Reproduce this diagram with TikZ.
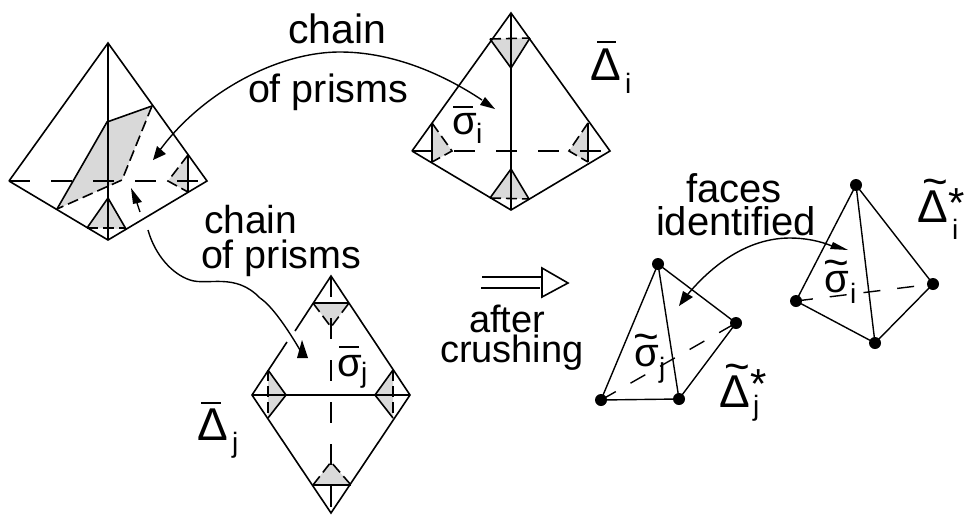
\documentclass[tikz,border=0pt]{standalone}
\usepackage{fontspec}
\setmainfont{Liberation Sans}
\definecolor{shade}{gray}{0.85}
\newcommand{\fs}[1]{\fontsize{#1}{#1}\selectfont}
\tikzset{
  edge/.style={line width=1.6pt,line join=miter},
  thin edge/.style={line width=1.4pt},
  longdash/.style={edge,dash pattern=on 21pt off 21pt},
  shortdash/.style={edge,dash pattern=on 11pt off 5pt},
  shadeface/.style={fill=shade,draw=none},
  txt/.style={anchor=base west,inner sep=0pt,outer sep=0pt,text=black},
  curve/.style={line width=1.4pt},
  tip/.style={fill=black,draw=none},
  barline/.style={line width=1.3pt},
  dot/.style={circle,fill=black,inner sep=0pt,minimum size=12pt},
}
\begin{document}
\begin{tikzpicture}[x=1pt,y=-1pt]
\useasboundingbox (0,0) rectangle (967,515);
% left tetrahedron
\coordinate (aT) at (108,43); \coordinate (aL) at (9,181); \coordinate (aR) at (207,181); \coordinate (aB) at (108,240);
\fill[shadeface] (107,122)--(152,106)--(122,180)--(57,209)--cycle;
\fill[shadeface] (108,198)--(87,228)--(126,229)--cycle;
\fill[shadeface] (188,155)--(168,181)--(188,192)--cycle;
\draw[edge] (aL)--(aT)--(aR)--(aB)--(aL);
\draw[edge] (aT)--(aB);
\draw[longdash] (aL)--(aR);
\draw[edge] (57,209)--(107,122)--(152,106);
\draw[shortdash] (152,106)--(122,180)--(57,209);
\draw[edge] (87,228)--(108,198)--(126,229);
\draw[shortdash] (87,228)--(126,228);
\draw[edge] (188,155)--(188,192);
\draw[shortdash] (188,155)--(168,181)--(188,192);
% top tetrahedron
\coordinate (bT) at (511,13); \coordinate (bL) at (412,151); \coordinate (bR) at (610,151); \coordinate (bB) at (511,210);
\fill[shadeface] (490,39)--(530,38)--(511,68)--cycle;
\fill[shadeface] (432,123)--(432,162)--(452,151)--cycle;
\fill[shadeface] (588,123)--(588,162)--(569,151)--cycle;
\fill[shadeface] (511,169)--(490,198)--(529,199)--cycle;
\draw[edge] (bL)--(bT)--(bR)--(bB)--(bL);
\draw[edge] (bT)--(bB);
\draw[longdash] (bL)--(bR);
\draw[edge] (490,39)--(511,68)--(530,38);
\draw[shortdash] (490,39)--(530,38);
\draw[edge] (432,123)--(432,162);
\draw[shortdash] (432,123)--(452,151)--(432,162);
\draw[edge] (588,123)--(588,162);
\draw[shortdash] (588,123)--(569,151)--(588,162);
\draw[edge] (490,198)--(511,169)--(529,199);
\draw[shortdash] (490,198)--(529,199);
% lower tetrahedron
\coordinate (cT) at (331,276); \coordinate (cL) at (252,395); \coordinate (cR) at (410,395); \coordinate (cB) at (331,513);
\fill[shadeface] (313,303)--(349,303)--(331,327)--cycle;
\fill[shadeface] (268,370)--(268,418)--(286,395)--cycle;
\fill[shadeface] (393,370)--(393,418)--(375,395)--cycle;
\fill[shadeface] (331,462)--(313,485)--(351,485)--cycle;
\draw[edge] (295,331)--(cT)--(cR)--(cB)--(cL)--(287,342);
\draw[edge] (cL)--(cR);
\draw[longdash] (cT)--(cB);
\draw[edge] (313,303)--(349,303);
\draw[shortdash] (313,303)--(331,327)--(349,303);
\draw[edge] (268,370)--(286,395)--(268,418);
\draw[shortdash] (268,370)--(268,418);
\draw[edge] (393,370)--(375,395)--(393,418);
\draw[shortdash] (393,370)--(393,418);
\draw[edge] (313,485)--(351,485);
\draw[shortdash] (313,485)--(331,462)--(351,485);
% right crushed tetrahedra
\node[dot] (dT) at (856,185) {};
\node[dot] (dL) at (796,301) {};
\node[dot] (dR) at (933,284) {};
\node[dot] (dB) at (875,343) {};
\draw[thin edge] (dL.center)--(dT.center)--(dR.center)--(dB.center)--(dL.center);
\draw[thin edge] (dT.center)--(dB.center);
\draw[thin edge,dash pattern=on 17pt off 17pt] (dL.center)--(dR.center);
\node[dot] (eT) at (658,264) {};
\node[dot] (eL) at (601,400) {};
\node[dot] (eR) at (736,323) {};
\node[dot] (eB) at (679,399) {};
\draw[thin edge] (eL.center)--(eT.center)--(eR.center)--(eB.center)--(eL.center);
\draw[thin edge] (eT.center)--(eB.center);
\draw[thin edge,dash pattern=on 17pt off 17pt] (eL.center)--(eR.center);
% curved arrows
\coordinate (p1) at (160,150); \coordinate (p2) at (340,52); \coordinate (p3) at (482,100);
\draw[curve] (p1) .. controls (200,95) and (275,52) .. (p2) .. controls (390,52) and (440,72) .. (p3);
\fill[tip] (153,160)--(157,146)--(166,154)--cycle;
\fill[tip] (495,109)--(485,97)--(480,105)--cycle;
\coordinate (q1) at (148,230); \coordinate (q2) at (190,280); \coordinate (q3) at (260,298); \coordinate (q4) at (300,350);
\draw[curve] (q1) .. controls (155,255) and (172,274) .. (q2) .. controls (208,286) and (235,272) .. (q3) .. controls (272,306) and (287,328) .. (q4);
\fill[tip] (302,340)--(297,358)--(308,358)--cycle;
\coordinate (s1) at (140,212); \coordinate (s2) at (136,200);
\draw[curve] (s1)--(s2);
\fill[tip] (131,188)--(133,204)--(142,202)--cycle;
\coordinate (r1) at (688,294); \coordinate (r2) at (790,238); \coordinate (r3) at (832,246);
\draw[curve] (r1) .. controls (715,262) and (750,238) .. (r2) .. controls (805,238) and (820,241) .. (r3);
\fill[tip] (679,306)--(683,291)--(693,297)--cycle;
\fill[tip] (848,250)--(833,242)--(830,249)--cycle;
% implication arrow
\coordinate (u1) at (482,277); \coordinate (u2) at (542,277); \coordinate (v1) at (481,288); \coordinate (v2) at (540,288);
\draw[edge] (u1)--(u2);
\draw[edge] (v1)--(v2);
\draw[edge] (542,268)--(568,283)--(542,297)--cycle;
% texts
\node[txt,font=\fs{41}] (t1) at (288,43) {chain};
\node[txt,font=\fs{39.5}] (t2) at (248,102) {of prisms};
\node[txt,font=\fs{39}] (t3) at (204,233) {chain};
\node[txt,font=\fs{39.5}] (t4) at (201,268) {of prisms};
\node[txt,font=\fs{38}] (t5) at (469,332) {after};
\node[txt,font=\fs{38}] (t6) at (440,362) {crushing};
\node[txt,font=\fs{40}] (t7) at (686,202) {faces};
\node[txt,font=\fs{40}] (t8) at (656,235) {identified};
% symbols
\node[txt,font=\fs{46}] (Di) at (590,80) {Δ};
\draw[barline] (597,42)--(616,42);
\node[txt,font=\fs{28}] (Dii) at (625,93) {i};
\node[txt,font=\fs{40}] (si) at (452,134) {σ};
\draw[barline] (453,107)--(473,107);
\node[txt,font=\fs{28}] (sii) at (476,143) {i};
\node[txt,font=\fs{46}] (Dj) at (197,440) {Δ};
\draw[barline] (201,403)--(221,403);
\node[txt,font=\fs{28}] (Djj) at (232,452) {j};
\node[txt,font=\fs{40}] (sj) at (337,376) {σ};
\draw[barline] (339,347)--(359,347);
\node[txt,font=\fs{28}] (sjj) at (361,382) {j};
\node[txt,font=\fs{46}] (Dsi) at (917,222) {Δ};
\node[txt,font=\fs{44}] (Dsit) at (922,196) {\textasciitilde};
\node[txt,font=\fs{42}] (Dsia) at (948,217) {*};
\node[txt,font=\fs{28}] (Dsii) at (952,239) {i};
\node[txt,font=\fs{40}] (tsi) at (824,292) {σ};
\node[txt,font=\fs{44}] (tsit) at (823,277) {\textasciitilde};
\node[txt,font=\fs{28}] (tsii) at (850,303) {i};
\node[txt,font=\fs{40}] (tsj) at (634,366) {σ};
\node[txt,font=\fs{44}] (tsjt) at (633,351) {\textasciitilde};
\node[txt,font=\fs{28}] (tsjj) at (659,377) {j};
\node[txt,font=\fs{46}] (Dsj) at (719,407) {Δ};
\node[txt,font=\fs{44}] (Dsjt) at (724,381) {\textasciitilde};
\node[txt,font=\fs{42}] (Dsja) at (750,398) {*};
\node[txt,font=\fs{28}] (Dsjj) at (753,415) {j};
\end{tikzpicture}
\end{document}
